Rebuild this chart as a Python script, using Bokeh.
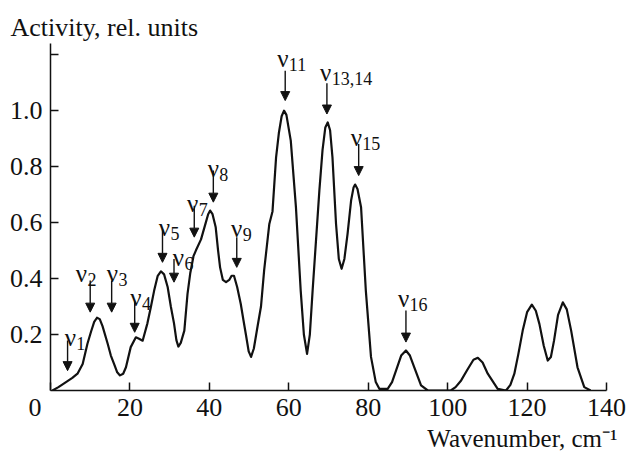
from bokeh.plotting import figure
from bokeh.models import (ColumnDataSource, FixedTicker, Arrow, NormalHead, Title)
from bokeh.core.properties import value
from bokeh.embed import file_html
from bokeh.resources import INLINE

# ---- data ----
wavenumber = [0.5, 2.0, 3.9, 5.5, 6.8, 8.1, 9.3, 10.2, 11.0, 11.7, 12.4, 13.1, 14.4, 15.2, 16.0,
              16.8, 17.5, 18.3, 19.0, 20.2, 21.5, 22.3, 23.2, 24.4, 25.3, 26.1, 27.0, 27.8, 28.6,
              29.5, 30.3, 31.1, 31.7, 32.2, 32.8, 33.7, 34.5, 35.2, 36.0, 36.6, 37.9, 39.1, 39.7,
              40.2, 40.8, 41.6, 42.2, 42.7, 43.4, 44.2, 45.0, 45.6, 46.2, 47.0, 47.9, 48.6, 49.2,
              49.9, 50.5, 51.2, 52.1, 53.0, 53.8, 55.1, 55.9, 56.8, 57.5, 58.2, 58.8, 59.4, 60.5,
              61.8, 63.0, 63.8, 64.6, 65.3, 66.0, 67.7, 68.5, 69.2, 69.8, 70.4, 71.0, 71.9, 72.6,
              73.3, 74.0, 74.8, 75.7, 76.3, 76.7, 77.3, 78.2, 79.4, 80.7, 81.9, 82.8, 84.9, 86.0,
              87.0, 88.3, 89.5, 90.5, 91.6, 93.3, 95.0, 100.8, 102.0, 103.4, 105.0, 106.5, 107.6,
              108.8, 110.1, 112.6, 114.7, 115.8, 116.8, 117.8, 118.9, 120.0, 121.2, 122.2, 123.1,
              124.2, 125.2, 126.0, 126.8, 127.8, 129.0, 130.0, 131.1, 132.7, 134.4, 136.0]
activity = [0.0, 0.012, 0.03, 0.045, 0.06, 0.095, 0.167, 0.21, 0.245, 0.26, 0.255, 0.23, 0.167, 0.125, 0.095,
            0.065, 0.054, 0.06, 0.083, 0.155, 0.19, 0.185, 0.178, 0.24, 0.3, 0.357, 0.41, 0.426, 0.415,
            0.37, 0.3, 0.24, 0.18, 0.157, 0.17, 0.214, 0.345, 0.42, 0.48, 0.5, 0.54, 0.6, 0.63,
            0.643, 0.63, 0.583, 0.5, 0.44, 0.395, 0.387, 0.395, 0.41, 0.41, 0.37, 0.31, 0.25, 0.2,
            0.14, 0.12, 0.15, 0.226, 0.3, 0.43, 0.595, 0.64, 0.833, 0.92, 0.98, 1.0, 0.985, 0.893,
            0.655, 0.357, 0.2, 0.131, 0.2, 0.357, 0.714, 0.86, 0.94, 0.958, 0.93, 0.833, 0.595, 0.47,
            0.435, 0.47, 0.56, 0.68, 0.725, 0.736, 0.72, 0.655, 0.357, 0.12, 0.03, 0.006, 0.006, 0.03,
            0.071, 0.125, 0.143, 0.125, 0.083, 0.018, 0.0, 0.0, 0.012, 0.036, 0.075, 0.11, 0.117,
            0.1, 0.06, 0.006, 0.0, 0.02, 0.06, 0.13, 0.214, 0.28, 0.307, 0.285, 0.238,
            0.16, 0.107, 0.12, 0.179, 0.27, 0.315, 0.29, 0.214, 0.083, 0.012, 0.0]

modes = ["1", "2", "3", "4", "5", "6", "7", "8", "9", "11", "13,14", "15", "16"]
arrow_x = [4.3, 10.0, 15.4, 21.2, 28.2, 31.1, 36.2, 41.0, 46.9, 59.1, 69.6, 77.6, 89.5]
arrow_tail = [0.179, 0.393, 0.393, 0.321, 0.577, 0.47, 0.66, 0.786, 0.548, 1.143, 1.098, 0.881, 0.286]
arrow_tip = [0.071, 0.28, 0.28, 0.208, 0.458, 0.387, 0.548, 0.673, 0.44, 1.036, 0.988, 0.768, 0.173]
label_x = [5.0, 7.8, 15.6, 21.5, 28.7, 32.2, 35.8, 41.0, 46.9, 58.5, 69.3, 77.0, 88.9]
label_y = [0.190, 0.417, 0.417, 0.333, 0.583, 0.476, 0.667, 0.792, 0.579, 1.185, 1.137, 0.905, 0.328]

x_ticks = [0, 20, 40, 60, 80, 100, 120, 140]
# the origin "0" sits left of the corner: padded with figure spaces so its centre shifts left
x_tick_labels = {0: "0\u2007\u2007\u2009"}
y_ticks = [0.2, 0.4, 0.6, 0.8, 1.0, 1.2]
y_tick_labels = {0.2: "0.2", 0.4: "0.4", 0.6: "0.6", 0.8: "0.8", 1.0: "1.0", 1.2: ""}
x_title = "Wavenumber, cm\u207b\u00b9"
y_title = "Activity, rel. units"

FONT = "Liberation Serif"
INK = "#111111"

p = figure(frame_width=556, frame_height=347, x_range=(0, 140), y_range=(0, 1.24),
           output_backend="svg", toolbar_location=None,
           min_border_left=50, min_border_right=20, min_border_top=43, min_border_bottom=62)
p.outline_line_color = None
p.grid.visible = False
p.background_fill_color = "white"
p.border_fill_color = "white"

# curve
p.line(wavenumber, activity, line_color=INK, line_width=2.2, line_join="round")

# axes
for ax in (p.xaxis[0], p.yaxis[0]):
    ax.axis_line_color = INK
    ax.axis_line_width = 1.5
    ax.major_tick_line_color = INK
    ax.major_tick_line_width = 1.5
    ax.major_tick_in = 8
    ax.major_tick_out = 0
    ax.minor_tick_line_color = None
    ax.major_label_text_font = FONT
    ax.major_label_text_font_size = "26px"
    ax.major_label_text_color = INK

p.xaxis.ticker = FixedTicker(ticks=x_ticks)
p.xaxis.major_label_overrides = x_tick_labels
p.xaxis.major_label_standoff = 2
p.yaxis.ticker = FixedTicker(ticks=y_ticks)
p.yaxis.major_label_overrides = y_tick_labels
p.yaxis.major_label_standoff = 8

# axis titles as titles in the side panels
p.add_layout(Title(text=y_title, align="left", offset=-40, standoff=4,
                   text_font=FONT, text_font_size="26px", text_font_style="normal",
                   text_color=INK), "above")
xt = Title(text=x_title, align="right", offset=-11, standoff=0,
           text_font=FONT, text_font_size="25px", text_font_style="normal", text_color=INK)
try:
    xt.standoff = -4
except Exception:
    pass
p.add_layout(xt, "below")

# arrows
arr_src = ColumnDataSource(dict(x0=arrow_x, y0=arrow_tail, x1=arrow_x, y1=arrow_tip))
p.add_layout(Arrow(x_start="x0", y_start="y0", x_end="x1", y_end="y1", source=arr_src,
                   line_color=INK, line_width=1.4,
                   end=NormalHead(size=9, fill_color=INK, line_color=INK, line_width=1)))

# mode labels
lab_src = ColumnDataSource(dict(x=label_x, y=label_y, nu=["\u03bd"] * len(modes), sub=modes))
p.text(x="x", y="y", text="nu", source=lab_src, text_font=value(FONT), text_font_size="25px",
       text_align="center", text_baseline="alphabetic", text_color=INK)
p.text(x="x", y="y", text="sub", source=lab_src, text_font=value(FONT), text_font_size="18px",
       text_align="left", text_baseline="alphabetic", text_color=INK, x_offset=6, y_offset=6)

open("out.html", "w").write(file_html(p, INLINE))
